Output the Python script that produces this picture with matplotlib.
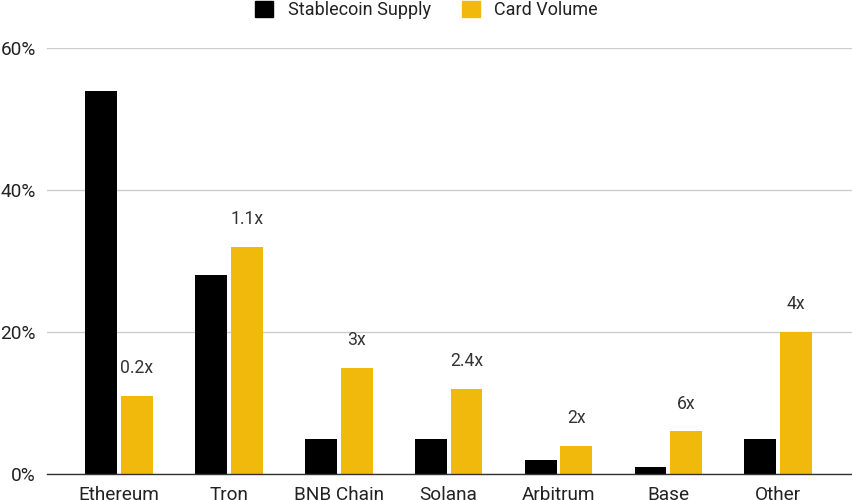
import matplotlib
matplotlib.use("Agg")
import matplotlib.pyplot as plt
import numpy as np

categories = ["Ethereum", "Tron", "BNB Chain", "Solana", "Arbitrum", "Base", "Other"]
supply = [54, 28, 5, 5, 2, 1, 5]
card = [11, 32, 15, 12, 4, 6, 20]
ratios = ["0.2x", "1.1x", "3x", "2.4x", "2x", "6x", "4x"]
yticks = [0, 20, 40, 60]
ytick_labels = ["0%", "20%", "40%", "60%"]

plt.rcParams['font.family'] = ['Roboto', 'DejaVu Sans']

BLACK = "#000000"
GOLD = "#F0B90B"
TXT = "#222222"

fig = plt.figure(figsize=(8.53, 5.0), dpi=100)
ax = fig.add_axes([47/853, 26/500, 806/853, 426/500])

x = np.arange(len(categories))
w = 0.29
gap = 0.018
ax.bar(x - w/2 - gap, supply, width=w, color=BLACK, zorder=3)
ax.bar(x + w/2 + gap, card, width=w, color=GOLD, zorder=3)

for xi, v, r in zip(x + w/2 + gap, card, ratios):
    ax.annotate(r, (xi, v), xytext=(0, 13.5), textcoords="offset points",
                ha="center", va="bottom", fontsize=12.7, color="#333333")

ax.set_xlim(-0.655, 6.68)
ax.set_ylim(0, 60)
ax.set_yticks(yticks)
ax.set_yticklabels(ytick_labels)
ax.set_xticks(x)
ax.set_xticklabels(categories)
ax.tick_params(axis="both", length=0, labelsize=13.7, colors=TXT)
ax.tick_params(axis="x", pad=9)
ax.tick_params(axis="y", pad=8)
ax.grid(axis="y", color="#cccccc", linewidth=1, zorder=0)
for s in ["top", "right", "left"]:
    ax.spines[s].set_visible(False)
ax.spines["bottom"].set_color("#333333")
ax.spines["bottom"].set_linewidth(1)
ax.spines["bottom"].set_zorder(4)

handles = [plt.Rectangle((0, 0), 1, 1, color=BLACK), plt.Rectangle((0, 0), 1, 1, color=GOLD)]
fig.legend(handles, ["Stablecoin Supply", "Card Volume"], loc="center",
           bbox_to_anchor=(0.5, 1 - 10/500), ncol=2, frameon=False, fontsize=13,
           handlelength=1.0, handleheight=1.0, columnspacing=1.7, handletextpad=0.8,
           labelcolor=TXT, borderpad=0)

fig.savefig("out.png", dpi=100)
